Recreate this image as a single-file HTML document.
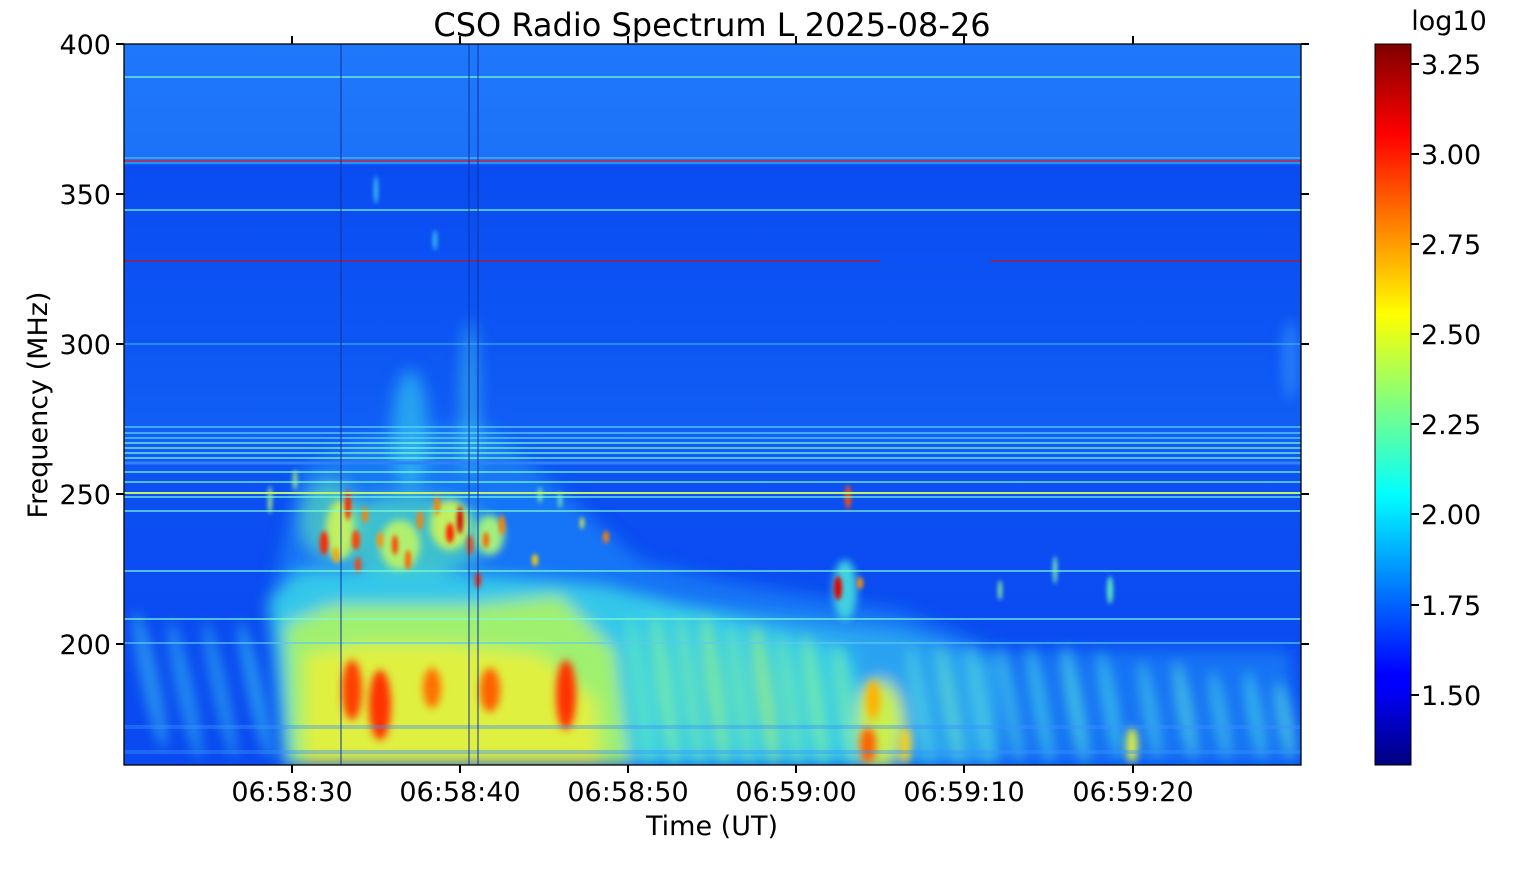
<!DOCTYPE html>
<html><head><meta charset="utf-8"><style>
html,body{margin:0;padding:0;background:#fff;}
svg text{font-family:"DejaVu Sans","Liberation Sans",sans-serif;fill:#000;}
</style></head><body>
<svg width="1516" height="864" viewBox="0 0 1516 864" xmlns="http://www.w3.org/2000/svg">
<defs>
<linearGradient id="jet" x1="0" y1="1" x2="0" y2="0">
<stop offset="0" stop-color="#00007f"/>
<stop offset="0.11" stop-color="#0000ff"/>
<stop offset="0.125" stop-color="#0000ff"/>
<stop offset="0.375" stop-color="#00ffff"/>
<stop offset="0.625" stop-color="#ffff00"/>
<stop offset="0.875" stop-color="#ff0000"/>
<stop offset="1" stop-color="#7f0000"/>
</linearGradient>
<linearGradient id="bg" x1="0" y1="0" x2="0" y2="1">
<stop offset="0" stop-color="#1f78fa"/>
<stop offset="0.16" stop-color="#1c72f8"/>
<stop offset="0.17" stop-color="#0a4cf2"/>
<stop offset="0.4" stop-color="#0d55f4"/>
<stop offset="0.55" stop-color="#1260f5"/>
<stop offset="0.62" stop-color="#0b4ef2"/>
<stop offset="1" stop-color="#0a4af0"/>
</linearGradient>
<filter id="b8"><feGaussianBlur stdDeviation="8"/></filter>
<filter id="b6"><feGaussianBlur stdDeviation="6"/></filter>
<filter id="b4"><feGaussianBlur stdDeviation="4"/></filter>
<filter id="b2"><feGaussianBlur stdDeviation="2"/></filter>
<clipPath id="cp"><rect x="124" y="44" width="1177" height="721"/></clipPath>
</defs>
<g clip-path="url(#cp)">
<rect x="124" y="44" width="1177" height="721" fill="url(#bg)"/>
<g filter="url(#b8)">
<polygon points="270,600 300,470 360,440 480,420 560,490 640,560 720,580 900,610 1000,650 1290,650 1300,765 280,765" fill="#1f90f8" opacity="0.6"/>
<polygon points="640,600 900,630 1000,660 1000,765 640,765" fill="#30b8f0" opacity="0.7"/>
<polygon points="268,600 300,570 420,570 600,585 700,610 850,650 880,765 285,765" fill="#38d0e8" opacity="0.9"/>
<polygon points="285,625 330,605 470,605 560,595 615,650 630,765 290,765" fill="#a0f070"/>
<polygon points="305,655 360,645 450,645 540,655 595,700 600,765 305,765" fill="#e0f040"/>
<ellipse cx="880" cy="725" rx="25" ry="45" fill="#c8f050"/>
<ellipse cx="410" cy="430" rx="18" ry="60" fill="#30c0f0" opacity="0.7"/>
<ellipse cx="470" cy="400" rx="8" ry="80" fill="#40d0e8" opacity="0.6"/>
<ellipse cx="410" cy="535" rx="80" ry="40" fill="#50e0c0" opacity="0.7"/>
<ellipse cx="330" cy="520" rx="30" ry="40" fill="#60e8b0" opacity="0.6"/>
</g>
<g filter="url(#b6)" opacity="0.7">
<ellipse cx="150" cy="680" rx="9" ry="70" fill="#30a8f0" transform="rotate(-12 150 680)"/>
<ellipse cx="185" cy="690" rx="9" ry="70" fill="#2aa0f0" transform="rotate(-12 185 690)"/>
<ellipse cx="220" cy="690" rx="8" ry="70" fill="#2aa0f0" transform="rotate(-12 220 690)"/>
<ellipse cx="255" cy="690" rx="8" ry="70" fill="#30b0f0" transform="rotate(-12 255 690)"/>
<ellipse cx="640" cy="690" rx="9" ry="75" fill="#60e8c0" transform="rotate(-8 640 690)"/>
<ellipse cx="665" cy="690" rx="9" ry="75" fill="#80f0a0" transform="rotate(-8 665 690)"/>
<ellipse cx="690" cy="690" rx="9" ry="75" fill="#70e8b0" transform="rotate(-8 690 690)"/>
<ellipse cx="715" cy="690" rx="9" ry="75" fill="#90f090" transform="rotate(-8 715 690)"/>
<ellipse cx="740" cy="695" rx="9" ry="70" fill="#70e8b0" transform="rotate(-8 740 695)"/>
<ellipse cx="765" cy="695" rx="9" ry="70" fill="#a0f080" transform="rotate(-8 765 695)"/>
<ellipse cx="790" cy="700" rx="9" ry="65" fill="#70e8b0" transform="rotate(-8 790 700)"/>
<ellipse cx="815" cy="700" rx="9" ry="65" fill="#80f0a0" transform="rotate(-8 815 700)"/>
<ellipse cx="845" cy="705" rx="9" ry="60" fill="#70e8b0" transform="rotate(-8 845 705)"/>
<ellipse cx="920" cy="705" rx="8" ry="60" fill="#50d0e0" transform="rotate(-10 920 705)"/>
<ellipse cx="950" cy="705" rx="8" ry="60" fill="#60d8d0" transform="rotate(-10 950 705)"/>
<ellipse cx="980" cy="705" rx="8" ry="60" fill="#50d0e0" transform="rotate(-10 980 705)"/>
<ellipse cx="1010" cy="705" rx="8" ry="60" fill="#40c0e8" transform="rotate(-10 1010 705)"/>
<ellipse cx="1040" cy="705" rx="8" ry="60" fill="#40c8e8" transform="rotate(-10 1040 705)"/>
<ellipse cx="1075" cy="705" rx="8" ry="60" fill="#50d8e0" transform="rotate(-10 1075 705)"/>
<ellipse cx="1110" cy="705" rx="8" ry="55" fill="#40c8e8" transform="rotate(-10 1110 705)"/>
<ellipse cx="1150" cy="710" rx="8" ry="50" fill="#40c0e8" transform="rotate(-10 1150 710)"/>
<ellipse cx="1185" cy="710" rx="8" ry="50" fill="#50d0e0" transform="rotate(-10 1185 710)"/>
<ellipse cx="1220" cy="715" rx="8" ry="45" fill="#40c0e8" transform="rotate(-10 1220 715)"/>
<ellipse cx="1255" cy="715" rx="8" ry="45" fill="#40c8e8" transform="rotate(-10 1255 715)"/>
<ellipse cx="1285" cy="720" rx="8" ry="40" fill="#50d0e0" transform="rotate(-10 1285 720)"/>
<ellipse cx="1290" cy="360" rx="8" ry="40" fill="#3090f8"/>
</g>
<g filter="url(#b4)">
<ellipse cx="352" cy="690" rx="10" ry="30" fill="#ff4000"/>
<ellipse cx="380" cy="705" rx="11" ry="35" fill="#ff3000"/>
<ellipse cx="432" cy="688" rx="9" ry="20" fill="#ff7000"/>
<ellipse cx="490" cy="690" rx="10" ry="22" fill="#ff6000"/>
<ellipse cx="566" cy="695" rx="10" ry="35" fill="#ff3000"/>
<ellipse cx="868" cy="745" rx="8" ry="18" fill="#ff6000"/>
<ellipse cx="873" cy="700" rx="7" ry="20" fill="#ffb000"/>
<ellipse cx="1132" cy="745" rx="6" ry="18" fill="#e0f040"/>
<ellipse cx="905" cy="745" rx="6" ry="18" fill="#f0d020"/>
<ellipse cx="845" cy="590" rx="12" ry="30" fill="#40d0e0"/>
<ellipse cx="340" cy="530" rx="14" ry="30" fill="#c0f060"/>
<ellipse cx="400" cy="545" rx="20" ry="25" fill="#b0f070"/>
<ellipse cx="450" cy="525" rx="20" ry="25" fill="#c0f060"/>
<ellipse cx="490" cy="535" rx="14" ry="20" fill="#a0f080"/>
</g>
<g filter="url(#b2)">
<ellipse cx="324" cy="543" rx="4" ry="12" fill="#ff2000"/>
<ellipse cx="348" cy="505" rx="3" ry="15" fill="#ff2000"/>
<ellipse cx="356" cy="540" rx="4" ry="10" fill="#ff4000"/>
<ellipse cx="358" cy="565" rx="3" ry="8" fill="#ff4000"/>
<ellipse cx="365" cy="515" rx="3" ry="8" fill="#ff8000"/>
<ellipse cx="336" cy="555" rx="3" ry="8" fill="#ffa000"/>
<ellipse cx="380" cy="540" rx="3" ry="8" fill="#ff9000"/>
<ellipse cx="395" cy="545" rx="3" ry="10" fill="#ff4000"/>
<ellipse cx="408" cy="560" rx="3" ry="10" fill="#ff6000"/>
<ellipse cx="420" cy="520" rx="3" ry="10" fill="#ff8000"/>
<ellipse cx="437" cy="505" rx="3" ry="10" fill="#ff8000"/>
<ellipse cx="450" cy="533" rx="4" ry="10" fill="#ff2000"/>
<ellipse cx="460" cy="520" rx="3" ry="14" fill="#d00000"/>
<ellipse cx="470" cy="545" rx="3" ry="10" fill="#ff4000"/>
<ellipse cx="478" cy="580" rx="3" ry="8" fill="#ff2000"/>
<ellipse cx="486" cy="540" rx="3" ry="8" fill="#ff6000"/>
<ellipse cx="502" cy="525" rx="3" ry="10" fill="#ff8000"/>
<ellipse cx="535" cy="560" rx="3" ry="6" fill="#ffd000"/>
<ellipse cx="606" cy="537" rx="3" ry="6" fill="#ff8000"/>
<ellipse cx="582" cy="523" rx="2" ry="6" fill="#e0f040"/>
<ellipse cx="838" cy="588" rx="4" ry="12" fill="#e00000"/>
<ellipse cx="848" cy="497" rx="3" ry="12" fill="#ff5000"/>
<ellipse cx="860" cy="583" rx="3" ry="6" fill="#ff9000"/>
<ellipse cx="1000" cy="590" rx="2" ry="10" fill="#90f0a0"/>
<ellipse cx="1055" cy="570" rx="2" ry="14" fill="#80f0b0"/>
<ellipse cx="1110" cy="590" rx="3" ry="14" fill="#60e8c0"/>
<ellipse cx="270" cy="500" rx="2" ry="14" fill="#a0f080"/>
<ellipse cx="376" cy="190" rx="2" ry="14" fill="#40c8f0"/>
<ellipse cx="295" cy="480" rx="2" ry="10" fill="#a0f080"/>
<ellipse cx="540" cy="495" rx="2" ry="8" fill="#80f0a0"/>
<ellipse cx="560" cy="500" rx="2" ry="8" fill="#70e8b0"/>
<ellipse cx="435" cy="240" rx="2" ry="10" fill="#40c8f0"/>
</g>
<g stroke="#7fffd0" stroke-width="1.2">
<line x1="124" y1="77" x2="1301" y2="77"/>
<line x1="124" y1="210" x2="1301" y2="210"/>
<line x1="124" y1="344" x2="1301" y2="344" stroke="#40a8ff"/>
<line x1="124" y1="427" x2="1301" y2="427" stroke="#60d8f0"/>
<line x1="124" y1="433" x2="1301" y2="433" stroke="#60d8f0"/>
<line x1="124" y1="438" x2="1301" y2="438" stroke="#60d8f0"/>
<line x1="124" y1="443" x2="1301" y2="443"/>
<line x1="124" y1="448" x2="1301" y2="448"/>
<line x1="124" y1="453" x2="1301" y2="453"/>
<line x1="124" y1="458" x2="1301" y2="458"/>
<line x1="124" y1="463" x2="1301" y2="463" stroke="#3080f8" stroke-width="3"/>
<line x1="124" y1="472" x2="1301" y2="472"/>
<line x1="124" y1="482" x2="1301" y2="482"/>
<line x1="124" y1="493" x2="1301" y2="493" stroke="#c0f070" stroke-width="2"/>
<line x1="124" y1="497" x2="1301" y2="497"/>
<line x1="124" y1="511" x2="1301" y2="511"/>
<line x1="124" y1="571" x2="1301" y2="571"/>
<line x1="124" y1="619" x2="1301" y2="619"/>
<line x1="124" y1="643" x2="1301" y2="643" stroke="#60c8f0"/>
</g>
<line x1="124" y1="158" x2="1301" y2="158" stroke="#40a0ff" stroke-width="2"/>
<line x1="124" y1="161" x2="1301" y2="161" stroke="#c03040" stroke-width="1.5"/>
<line x1="124" y1="163" x2="1301" y2="163" stroke="#40c0ff" stroke-width="1"/>
<line x1="124" y1="261" x2="880" y2="261" stroke="#a02040" stroke-width="1.5"/>
<line x1="990" y1="261" x2="1301" y2="261" stroke="#a02040" stroke-width="1.5"/>
<rect x="124" y="725" width="1177" height="4" fill="#3a90ff" opacity="0.4"/>
<rect x="124" y="750" width="1177" height="4" fill="#3a90ff" opacity="0.4"/>
<line x1="341" y1="44" x2="341" y2="765" stroke="#1030a0" stroke-width="1"/>
<line x1="469" y1="44" x2="469" y2="765" stroke="#1030a0" stroke-width="1"/>
<line x1="478" y1="44" x2="478" y2="765" stroke="#1030a0" stroke-width="1"/>
</g>
<rect x="124" y="44" width="1177" height="721" fill="none" stroke="#000" stroke-width="1.3"/>
<g stroke="#000" stroke-width="2">
<line x1="116" y1="44" x2="124" y2="44"/><line x1="116" y1="194" x2="124" y2="194"/><line x1="116" y1="344" x2="124" y2="344"/><line x1="116" y1="494" x2="124" y2="494"/><line x1="116" y1="644" x2="124" y2="644"/>
<line x1="1301" y1="44" x2="1309" y2="44"/><line x1="1301" y1="194" x2="1309" y2="194"/><line x1="1301" y1="344" x2="1309" y2="344"/><line x1="1301" y1="494" x2="1309" y2="494"/><line x1="1301" y1="644" x2="1309" y2="644"/>
<line x1="292" y1="765" x2="292" y2="773"/><line x1="460" y1="765" x2="460" y2="773"/><line x1="628" y1="765" x2="628" y2="773"/><line x1="796" y1="765" x2="796" y2="773"/><line x1="964" y1="765" x2="964" y2="773"/><line x1="1133" y1="765" x2="1133" y2="773"/>
<line x1="292" y1="36" x2="292" y2="44"/><line x1="460" y1="36" x2="460" y2="44"/><line x1="628" y1="36" x2="628" y2="44"/><line x1="796" y1="36" x2="796" y2="44"/><line x1="964" y1="36" x2="964" y2="44"/><line x1="1133" y1="36" x2="1133" y2="44"/>
</g>
<g font-size="27" text-anchor="end">
<text x="111" y="54">400</text><text x="111" y="204">350</text><text x="111" y="354">300</text><text x="111" y="504">250</text><text x="111" y="654">200</text>
</g>
<g font-size="27" text-anchor="middle">
<text x="292" y="801">06:58:30</text><text x="460" y="801">06:58:40</text><text x="628" y="801">06:58:50</text><text x="796" y="801">06:59:00</text><text x="964" y="801">06:59:10</text><text x="1133" y="801">06:59:20</text>
<text x="712" y="835">Time (UT)</text>
<text x="712" y="36" font-size="32">CSO Radio Spectrum L 2025-08-26</text>
</g>
<text transform="translate(47,405) rotate(-90)" font-size="27" text-anchor="middle">Frequency (MHz)</text>
<rect x="1375" y="44" width="36" height="721" fill="url(#jet)" stroke="#000" stroke-width="1"/>
<g stroke="#000" stroke-width="2">
<line x1="1411" y1="64" x2="1419" y2="64"/><line x1="1411" y1="154" x2="1419" y2="154"/><line x1="1411" y1="244" x2="1419" y2="244"/><line x1="1411" y1="334" x2="1419" y2="334"/><line x1="1411" y1="424" x2="1419" y2="424"/><line x1="1411" y1="514" x2="1419" y2="514"/><line x1="1411" y1="605" x2="1419" y2="605"/><line x1="1411" y1="695" x2="1419" y2="695"/>
</g>
<g font-size="27">
<text x="1421" y="74">3.25</text><text x="1421" y="164">3.00</text><text x="1421" y="254">2.75</text><text x="1421" y="344">2.50</text><text x="1421" y="434">2.25</text><text x="1421" y="524">2.00</text><text x="1421" y="615">1.75</text><text x="1421" y="705">1.50</text>
<text x="1449" y="30" text-anchor="middle">log10</text>
</g>
</svg>
</body></html>
